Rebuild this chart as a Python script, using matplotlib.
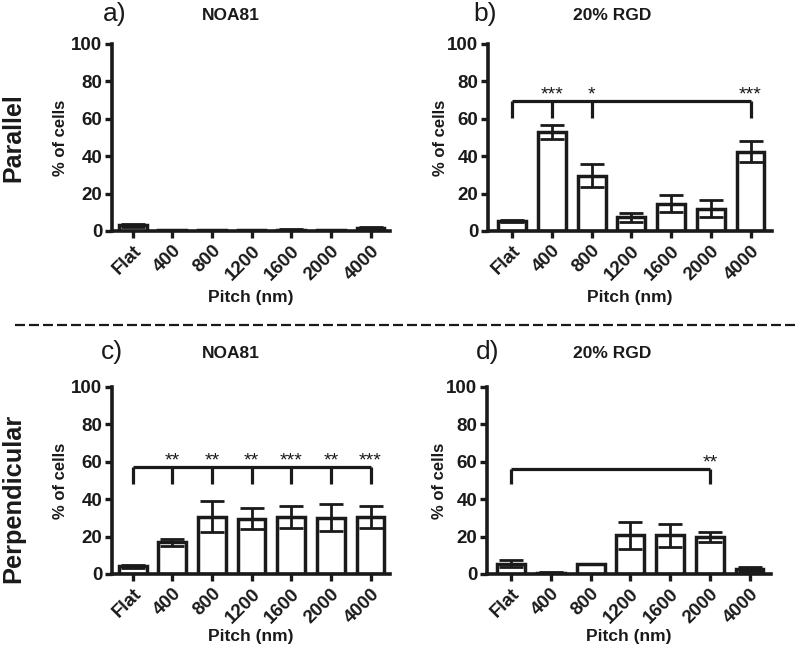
import numpy as np
import matplotlib
matplotlib.use("Agg")
import matplotlib.pyplot as plt

plt.rcParams['font.family'] = ['Liberation Sans', 'DejaVu Sans']

pitches = ["Flat", "400", "800", "1200", "1600", "2000", "4000"]

# mean and error (% of cells)
par_noa_mean = [3.0, 0.5, 0.3, 0.5, 0.8, 0.3, 1.5]
par_noa_err = [1.0, 0.2, 0.1, 0.2, 0.3, 0.1, 0.5]
par_rgd_mean = [5.3, 53.0, 29.6, 7.3, 14.6, 11.9, 42.4]
par_rgd_err = [0.6, 3.8, 6.2, 2.3, 4.4, 4.5, 5.5]
perp_noa_mean = [4.1, 16.9, 30.7, 29.5, 30.7, 30.2, 30.7]
perp_noa_err = [0.7, 2.0, 8.2, 5.6, 5.9, 7.4, 5.9]
perp_rgd_mean = [5.5, 0.7, 5.3, 20.6, 20.6, 19.7, 2.8]
perp_rgd_err = [1.8, 0.2, 0.0, 7.0, 6.4, 2.6, 1.0]

# significance brackets: (bracket height, drop bottom, {index: stars})
par_rgd_sig = (69.5, 60.6, {1: "***", 2: "*", 6: "***"})
perp_noa_sig = (57.2, 48.0, {1: "**", 2: "**", 3: "**", 4: "***", 5: "**", 6: "***"})
perp_rgd_sig = (56.1, 48.1, {5: "**"})

INK = "#1a1a1a"
fig = plt.figure(figsize=(8, 6.49), dpi=100)
W, H = 800, 649


def make_axes(left, right, y_top, y_bot):
    return fig.add_axes([left / W, 1 - y_bot / H, (right - left) / W, (y_bot - y_top) / H])


def draw_panel(ax, mean, err, xlim, ylab_x, xlab_y, sig=None):
    x = np.arange(len(pitches))
    ax.bar(x, mean, width=0.7, color="white", edgecolor=INK, linewidth=2.5, zorder=2)
    ax.errorbar(x, mean, yerr=err, fmt="none", ecolor=INK, elinewidth=2.0,
                capsize=8.5, capthick=2.0, zorder=3)
    ax.set_xlim(*xlim)
    ax.set_ylim(0, 100)
    ax.set_yticks([0, 20, 40, 60, 80, 100])
    ax.set_xticks(x)
    ax.set_xticklabels(pitches, rotation=45, ha="right", rotation_mode="anchor")
    for s in ["top", "right"]:
        ax.spines[s].set_visible(False)
    for s in ["left", "bottom"]:
        ax.spines[s].set_linewidth(2.6)
        ax.spines[s].set_color(INK)
    ax.tick_params(axis="both", width=2.4, length=5, color=INK, labelsize=13.5,
                   labelcolor=INK)
    ax.tick_params(axis="x", pad=3)
    ax.tick_params(axis="y", pad=2)
    for lab in ax.get_xticklabels() + ax.get_yticklabels():
        lab.set_fontweight("bold")
    ax.set_ylabel("% of cells", fontsize=12, fontweight="bold", color=INK, va="center")
    ax.set_xlabel("Pitch (nm)", fontsize=12.5, fontweight="bold", color=INK, va="center")
    ax.yaxis.set_label_coords(ylab_x, 0.5)
    ax.xaxis.set_label_coords(0.5, xlab_y)
    if sig is not None:
        top, bot, stars = sig
        idx = [0] + sorted(stars)
        ax.plot([idx[0], idx[-1]], [top, top], color=INK, lw=2.3, clip_on=False,
                solid_capstyle="butt")
        for i in idx:
            ax.plot([i, i], [top, bot], color=INK, lw=2.3, clip_on=False,
                    solid_capstyle="butt")
        for i, s in stars.items():
            ax.text(i, top + 3.2, s, ha="center", va="center", fontsize=14, color=INK)


ax_a = make_axes(112, 390, 44, 231)
ax_b = make_axes(488, 772, 44, 231)
ax_c = make_axes(112, 390, 387, 574)
ax_d = make_axes(487, 771, 387, 574)

lim_l = (-0.52, 6.49)
lim_r = (-0.61, 6.54)
draw_panel(ax_a, par_noa_mean, par_noa_err, lim_l, -0.187, -0.353)
draw_panel(ax_b, par_rgd_mean, par_rgd_err, lim_r, -0.169, -0.353, par_rgd_sig)
draw_panel(ax_c, perp_noa_mean, perp_noa_err, lim_l, -0.187, -0.335, perp_noa_sig)
draw_panel(ax_d, perp_rgd_mean, perp_rgd_err, lim_r, -0.169, -0.335, perp_rgd_sig)

# panel letters and titles
for lx, ly, letter, tx, title in [(115, 14, "a)", 231, "NOA81"),
                                  (485, 14, "b)", 612, "20% RGD"),
                                  (112, 352, "c)", 231, "NOA81"),
                                  (488, 352, "d)", 612, "20% RGD")]:
    fig.text(lx / W, 1 - ly / H, letter, ha="center", va="center", fontsize=19, color=INK)
    fig.text(tx / W, 1 - (ly + 1) / H, title, ha="center", va="center", fontsize=12.5,
             fontweight="bold", color=INK)

fig.text(13 / W, 1 - 138 / H, "Parallel", rotation=90, ha="center", va="center",
         fontsize=18, fontweight="bold", color=INK)
fig.text(13 / W, 1 - 498 / H, "Perpendicular", rotation=90, ha="center", va="center",
         fontsize=18.3, fontweight="bold", color=INK)

fig.add_artist(plt.Line2D([15 / W, 797 / W], [1 - 325 / H, 1 - 325 / H], color=INK,
                          lw=1.6, ls=(0, (4.5, 1.8))))

fig.savefig("out.png", dpi=100)
